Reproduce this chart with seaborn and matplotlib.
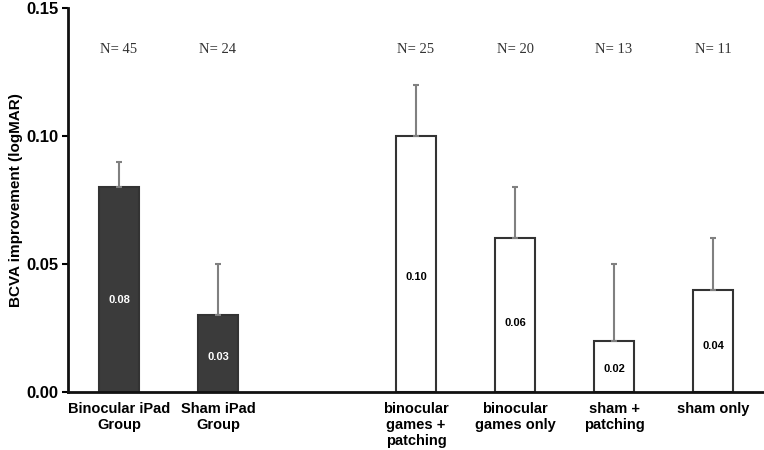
import matplotlib
matplotlib.use("Agg")
import matplotlib.pyplot as plt
import seaborn as sns
import pandas as pd
import numpy as np

categories = ["Binocular iPad\nGroup", "Sham iPad\nGroup",
              "binocular\ngames +\npatching", "binocular\ngames only",
              "sham +\npatching", "sham only"]
values = [0.08, 0.03, 0.10, 0.06, 0.02, 0.04]
errors = [0.01, 0.02, 0.02, 0.02, 0.03, 0.02]
n_labels = ["N= 45", "N= 24", "N= 25", "N= 20", "N= 13", "N= 11"]
value_labels = ["0.08", "0.03", "0.10", "0.06", "0.02", "0.04"]
fill_colors = ["#3b3b3b", "#3b3b3b", "white", "white", "white", "white"]
text_colors = ["white", "white", "black", "black", "black", "black"]

sns.set_theme(style="white")
plt.rcParams['font.family'] = ['Liberation Sans', 'DejaVu Sans']
plt.rcParams['text.color'] = 'black'
plt.rcParams['axes.labelcolor'] = 'black'
plt.rcParams['xtick.color'] = 'black'
plt.rcParams['ytick.color'] = 'black'

order = categories[:2] + [" "] + categories[2:]
df = pd.DataFrame({"group": categories, "value": values})

fig = plt.figure(figsize=(7.64, 4.5), dpi=100)
ax = fig.add_axes([0.089, 0.129, 0.911, 0.853])

pal = dict(zip(categories, fill_colors))
sns.barplot(data=df, x="group", y="value", order=order, hue="group",
            palette=pal, legend=False, width=0.4, edgecolor="#333333",
            linewidth=1.5, errorbar=None, ax=ax, saturation=1)

for cat, v, e, nl, vl, tc in zip(categories, values, errors, n_labels, value_labels, text_colors):
    x = order.index(cat)
    ax.errorbar(x, v, yerr=[[0], [e]], fmt="none", ecolor="#808080",
                elinewidth=1.5, capsize=2, capthick=1.5, zorder=1)
    ax.text(x, 0.134, nl, ha="center", va="center", fontsize=10.5,
            family="Liberation Serif", color="#333333")
    ax.text(x, v * 0.45, vl, ha="center", va="center", fontsize=8,
            fontweight="bold", color=tc)

ax.set_ylim(0, 0.15)
ax.set_xlim(-0.515, 6.515)
ax.set_yticks([0.0, 0.05, 0.10, 0.15])
ax.set_yticklabels(["0.00", "0.05", "0.10", "0.15"], fontsize=12, fontweight="bold")
ax.set_xlabel("")
ax.set_ylabel("BCVA improvement (logMAR)", fontsize=11, fontweight="bold", labelpad=2)
ax.tick_params(axis="x", length=0, labelsize=10.5, pad=7)
for lbl in ax.get_xticklabels():
    lbl.set_fontweight("bold")
ax.tick_params(axis="y", length=4, width=1.5, direction="out", left=True, pad=3)
for s in ["top", "right"]:
    ax.spines[s].set_visible(False)
for s in ["left", "bottom"]:
    ax.spines[s].set_linewidth(2)
    ax.spines[s].set_color("#111111")

fig.savefig("out.png", dpi=100)
